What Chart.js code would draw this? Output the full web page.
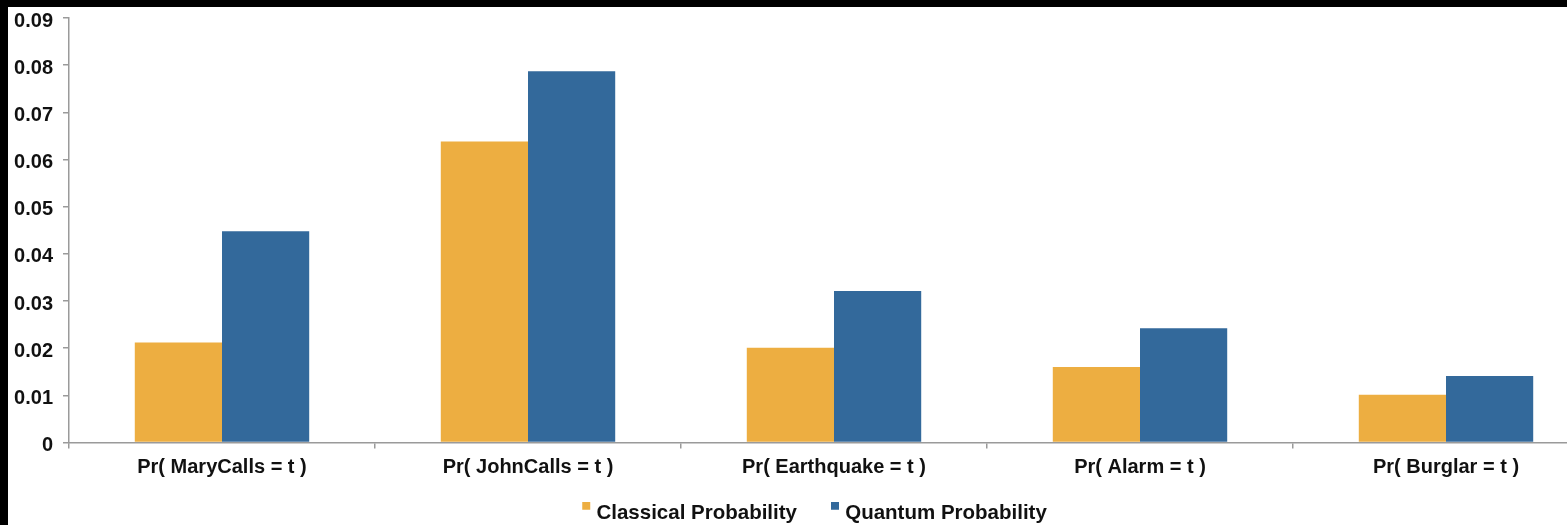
<!DOCTYPE html>
<html>
<head>
<meta charset="utf-8">
<script src="https://cdn.jsdelivr.net/npm/chart.js@4"></script>
<style>
  html, body { margin: 0; padding: 0; background: #000; overflow: hidden; width: 1567px; height: 525px; }
  #frame { position: absolute; left: 8px; top: -4px; width: 1612px; height: 538px; background: #fff; }
  #topband { position: absolute; left: 0; top: 0; width: 1567px; height: 7px; background: #000; z-index: 2; }
  #chart { display: block; }
</style>
</head>
<body>
<div id="frame"><canvas id="chart" width="1612" height="538"></canvas></div>
<div id="topband"></div>
<script>
// Marginal probabilities of each node being true
const categories = [
  'Pr( MaryCalls = t )',
  'Pr( JohnCalls = t )',
  'Pr( Earthquake = t )',
  'Pr( Alarm = t )',
  'Pr( Burglar = t )'
];
const classicalValues = [0.0212, 0.0638, 0.0201, 0.0160, 0.0101];
const quantumValues   = [0.0448, 0.0787, 0.0321, 0.0242, 0.0141];
const seriesNames = ['Classical Probability', 'Quantum Probability'];
const yTicks = [0, 0.01, 0.02, 0.03, 0.04, 0.05, 0.06, 0.07, 0.08, 0.09];

const ORANGE = '#EDAE41';
const BLUE = '#33699B';
const AXIS = '#9a9a9a';
const FAMILY = '"Liberation Sans", Arial, Helvetica, sans-serif';
const FONT = { family: FAMILY, size: 20, weight: 'bold' };
const LEGEND_FONT = { family: FAMILY, size: 20.5, weight: 'bold' };

// Small legend swatch sitting high beside the label text
function swatch(color) {
  const c = document.createElement('canvas');
  c.width = 52; c.height = 24;
  const g = c.getContext('2d');
  g.fillStyle = color;
  g.fillRect(40, 0, 8, 8);
  return c;
}

// Shift the legend row slightly left of the canvas centre
const legendNudge = {
  id: 'legendNudge',
  afterLayout(chart) {
    if (chart.legend) {
      chart.legend.left -= 5;
      chart.legend.right -= 5;
    }
  }
};

new Chart(document.getElementById('chart'), {
  type: 'bar',
  data: {
    labels: categories,
    datasets: [
      { label: seriesNames[0], data: classicalValues, backgroundColor: ORANGE, pointStyle: swatch(ORANGE),
        categoryPercentage: 0.57, barPercentage: 1.0 },
      { label: seriesNames[1], data: quantumValues, backgroundColor: BLUE, pointStyle: swatch(BLUE),
        categoryPercentage: 0.57, barPercentage: 1.0 }
    ]
  },
  plugins: [legendNudge],
  options: {
    responsive: false,
    animation: false,
    devicePixelRatio: 1,
    layout: { padding: { top: 0, right: 21, left: 0, bottom: 0 } },
    plugins: {
      tooltip: { enabled: false },
      legend: {
        position: 'bottom',
        labels: {
          usePointStyle: true,
          pointStyleWidth: 36,
          padding: 2,
          color: '#111',
          font: LEGEND_FONT
        }
      }
    },
    scales: {
      x: {
        grid: { display: true, drawOnChartArea: false, drawTicks: true, tickLength: 6, color: AXIS, lineWidth: 1.5, offset: true },
        border: { display: true, color: AXIS, width: 1.5 },
        ticks: { color: '#111', font: FONT, padding: 7, maxRotation: 0, autoSkip: false },
        afterFit: (s) => { s.height = 59; }
      },
      y: {
        min: 0,
        max: 0.09,
        afterBuildTicks: (s) => { s.ticks = yTicks.map(v => ({ value: v })); },
        grid: { display: true, drawOnChartArea: false, drawTicks: true, tickLength: 6, color: AXIS, lineWidth: 1.5 },
        border: { display: true, color: AXIS, width: 1.5 },
        ticks: {
          color: '#111', font: FONT, padding: 10, labelOffset: 3,
          callback: (v) => (v === 0 ? '0' : Number(v).toFixed(2))
        },
        afterFit: (s) => { s.width = 61; }
      }
    }
  }
});
</script>
</body>
</html>
